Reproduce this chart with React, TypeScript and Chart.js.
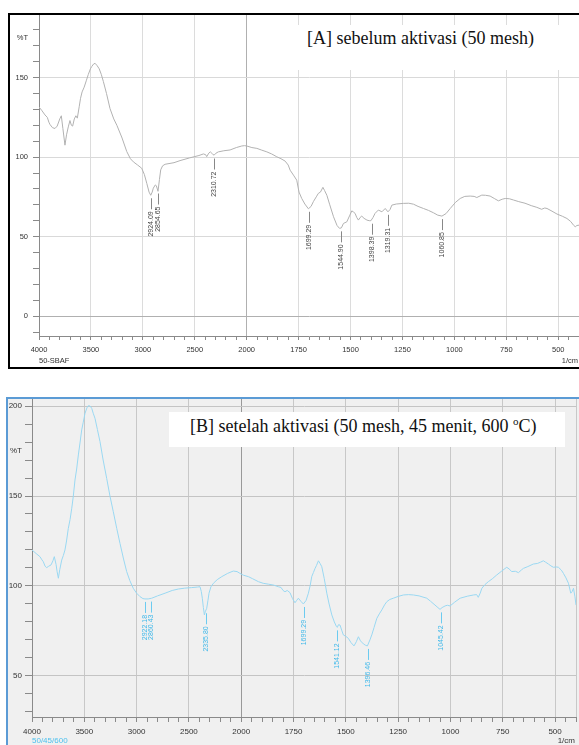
import React, { useEffect, useRef } from 'react';
import { Chart, registerables } from 'chart.js';
Chart.register(...registerables);

const SANS = '"Liberation Sans", Arial, Helvetica, sans-serif';
const SERIF = '"Liberation Serif", "Times New Roman", Times, serif';

// Shimadzu-style axis: 4000-2000 compressed (x2), 2000-400 expanded
const toAxis = (w: number) => (w >= 2000 ? (4000 - w) / 2 : 1000 + (2000 - w));
const fromAxis = (v: number) => (v <= 1000 ? 4000 - 2 * v : 2000 - (v - 1000));

const xTickLabels = [4000, 3500, 3000, 2500, 2000, 1750, 1500, 1250, 1000, 750, 500];
const yTickLabelsA = [0, 50, 100, 150];
const yTickLabelsB = [50, 100, 150, 200];

const titleA = '[A] sebelum aktivasi (50 mesh)';
const sampleA = '50-SBAF';
const sampleB = '50/45/600';
const unitLabel = '1/cm';
const yTitle = '%T';

const wavenumbersA = [
  4000, 3975, 3942, 3920, 3905, 3894, 3870, 3846, 3825, 3800,
  3785, 3770, 3750, 3735, 3718, 3702, 3688, 3676, 3660, 3645,
  3631, 3612, 3600, 3585, 3565, 3545, 3525, 3505, 3492, 3475,
  3460, 3440, 3420, 3400, 3380, 3350, 3316, 3280, 3250, 3200,
  3155, 3120, 3091, 3050, 3011, 2985, 2962, 2940, 2924, 2910,
  2899, 2880, 2870, 2854, 2840, 2828, 2810, 2786, 2700, 2642,
  2550, 2460, 2417, 2395, 2385, 2365, 2350, 2330, 2314, 2295,
  2273, 2220, 2160, 2100, 2047, 2020, 2000, 1975, 1951, 1930,
  1903, 1880, 1855, 1835, 1815, 1800, 1791, 1775, 1759, 1748,
  1735, 1720, 1703, 1690, 1679, 1665, 1655, 1645, 1633, 1625,
  1614, 1600, 1582, 1565, 1553, 1544, 1534, 1518, 1505, 1494,
  1486, 1478, 1470, 1462, 1454, 1446, 1435, 1421, 1410, 1402,
  1392, 1382, 1366, 1349, 1333, 1320, 1310, 1301, 1280, 1245,
  1220, 1197, 1175, 1149, 1125, 1101, 1080, 1060, 1040, 1020,
  995, 972, 950, 924, 905, 892, 868, 850, 828, 808,
  788, 770, 755, 735, 715, 690, 660, 630, 603, 580,
  565, 554, 530, 506, 480, 458, 440, 425, 418, 410,
  400,
];
const transmittanceA = [
  131.5, 129.5, 126.5, 125, 122, 120.5, 118.5, 118, 119.5, 124,
  126, 118, 107.5, 114, 119, 123, 120, 119.5, 124, 126,
  124.5, 132, 137, 141, 144, 148, 152, 155.5, 157, 158.5,
  159, 157.5, 155.5, 152, 147.5, 140, 130.5, 124, 120, 112,
  103.5, 99, 97, 95, 93, 89, 83.5, 78, 76, 78,
  80.5, 82.5, 82, 78.5, 86, 92, 94.5, 95.5, 96.5, 97.8,
  99.5, 101, 102, 101.5, 100.3, 102.5, 103.3, 102, 101.2, 102.5,
  103.3, 104, 104.5, 106, 107, 107.2, 107, 106, 105.5, 104.5,
  103.3, 102, 100.2, 99, 97.5, 95, 91.8, 88.7, 85.5, 78,
  74, 70.5, 67.5, 69, 72, 75, 77.2, 78, 81, 79,
  76, 70, 62.5, 57, 55.2, 55.5, 58.3, 59.3, 63, 66.2,
  65.5, 64.6, 62, 60.4, 62, 62.9, 61.5, 60.4, 60, 60,
  62, 64.6, 66.7, 65.6, 67.7, 65.6, 67, 69.8, 70.5, 70.9,
  71, 70.4, 69, 67.7, 66.5, 65, 63.5, 62.9, 64.5, 67.7,
  71.5, 74, 75.3, 75.5, 75.3, 74.6, 76.1, 76, 75.5, 74,
  72.5, 73.5, 74, 73.8, 73, 72, 71, 69.5, 68.4, 67.2,
  68, 67.7, 66, 64.2, 62.8, 61.4, 59.5, 57, 56.2, 57,
  57.2,
];

const wavenumbersB = [
  4000, 3960, 3924, 3905, 3892, 3875, 3860, 3840, 3818, 3800,
  3787, 3770, 3760, 3748, 3735, 3716, 3700, 3685, 3670, 3653,
  3636, 3620, 3605, 3589, 3573, 3557, 3540, 3525, 3510, 3493,
  3475, 3461, 3445, 3429, 3415, 3398, 3375, 3350, 3320, 3286,
  3255, 3223, 3190, 3159, 3125, 3095, 3065, 3032, 3000, 2968,
  2940, 2920, 2890, 2856, 2800, 2728, 2660, 2602, 2540, 2474,
  2420, 2394, 2382, 2372, 2362, 2352, 2342, 2330, 2318, 2308,
  2290, 2266, 2230, 2186, 2130, 2076, 2040, 2012, 1990, 1966,
  1945, 1918, 1895, 1870, 1845, 1823, 1810, 1800, 1791, 1780,
  1767, 1755, 1743, 1735, 1727, 1715, 1703, 1690, 1679, 1670,
  1663, 1655, 1647, 1640, 1631, 1623, 1615, 1603, 1591, 1580,
  1567, 1555, 1545, 1541, 1535, 1528, 1520, 1512, 1500, 1488,
  1475, 1461, 1450, 1440, 1430, 1416, 1405, 1397, 1385, 1376,
  1365, 1352, 1340, 1328, 1315, 1304, 1290, 1273, 1250, 1225,
  1200, 1177, 1150, 1113, 1095, 1074, 1060, 1050, 1040, 1026,
  1015, 1002, 980, 954, 920, 890, 875, 867, 858, 850,
  835, 819, 800, 779, 755, 731, 720, 707, 690, 675,
  660, 651, 630, 604, 585, 570, 556, 545, 532, 520,
  508, 495, 484, 470, 460, 448, 436, 425, 418, 412,
  405, 400,
];
const transmittanceB = [
  120, 118, 116.3, 114.5, 113.5, 111, 110.2, 111, 111.7, 114,
  116.3, 112, 108, 104.3, 109, 114.4, 117, 120, 125, 132,
  137, 143.2, 150, 158.9, 165, 172.8, 180, 186.7, 191, 196,
  199, 200.2, 200, 198.7, 196, 193.2, 187, 180.2, 170, 159.8,
  150, 141.3, 132, 123.7, 115, 108, 103, 98.7, 96, 94.1,
  93, 92.8, 92.8, 93.2, 94.5, 96, 97.5, 98.3, 98.8, 99.1,
  99.4, 99.6, 97, 93.2, 88, 83.9, 86, 87.6, 92, 96,
  99.5, 101.5, 103.5, 105.2, 107, 108.3, 108, 107, 106, 105.2,
  104, 102.4, 101.5, 101, 100.5, 99.6, 99.2, 97.5, 96.8, 97.5,
  96.3, 93, 90.7, 92, 93.2, 91.5, 90, 92, 96, 100.5,
  105.2, 107.5, 109.8, 111.5, 114, 112.5, 110.7, 104, 96, 90,
  83.9, 80, 77.5, 77, 78.5, 78.3, 75.5, 72.8, 72, 70.9,
  68.5, 66.7, 69, 71.8, 69.5, 67.8, 67, 66.7, 70, 72.8,
  77, 82, 84.5, 86.7, 89.5, 91.3, 92.5, 93.2, 94.2, 95,
  95.2, 95, 94.5, 93.2, 91.5, 89.4, 88, 87, 88, 88.9,
  89.3, 88.9, 91, 93.2, 94.3, 95, 95.2, 93.7, 96, 98.7,
  100.8, 102.4, 104, 106.1, 108.3, 110.4, 109.5, 108, 108.2, 107.4,
  109, 109.8, 110.8, 112.2, 112.5, 113.2, 114, 113.2, 112.2, 111.2,
  110.4, 110.6, 110.4, 108.8, 107, 104.5, 101.5, 96, 97, 98.7,
  94, 89.4,
];

const peaksA = [2924.09, 2854.65, 2310.72, 1699.29, 1544.9, 1398.39, 1319.31, 1060.85];
const peakDepthA = [76, 79, 101, 67.5, 55.2, 60, 65.6, 62.9];
const peaksB = [2922.18, 2860.43, 2335.8, 1699.29, 1541.12, 1396.46, 1045.42];
const peakDepthB = [92.8, 93, 86.5, 90, 77, 66.7, 87];

type Panel = {
  wn: number[]; t: number[]; peaks: number[]; peakT: number[];
  yLabels: number[]; yMin: number; yMax: number;
  lineColor: string; peakLineColor: string; peakTextColor: string;
  sample: string; sampleColor: string;
  left: number; top: number; width: number; height: number;
  yAxisWidth: number; xAxisHeight: number; padRight: number;
  yTickLen: number; yTickPad: number; xTickLen: number; xTickPad: number;
  tickFont: number; gridMinor: string; gridMajor: string; gridBreak: string;
  axisColor: string; bottomTextOffset: number;
};

function SpectrumChart({ p }: { p: Panel }) {
  const ref = useRef<HTMLCanvasElement | null>(null);
  useEffect(() => {
    if (!ref.current) return;
    const data = p.wn.map((w, i) => ({ x: toAxis(w), y: p.t[i] }));
    const annot = {
      id: 'annot',
      afterDatasetsDraw(chart: any) {
        const { ctx, chartArea, scales } = chart;
        const x = scales.x, y = scales.y;
        ctx.save();
        ctx.lineWidth = 1;
        ctx.font = `7px ${SANS}`;
        p.peaks.forEach((w, i) => {
          const px = Math.round(x.getPixelForValue(toAxis(w))) + 0.5;
          const py = y.getPixelForValue(p.peakT[i]);
          const y0 = py + 3, y1 = py + 14;
          ctx.strokeStyle = p.peakLineColor;
          ctx.beginPath(); ctx.moveTo(px, y0); ctx.lineTo(px, y1); ctx.stroke();
          ctx.save();
          ctx.translate(px, y1 + 2);
          ctx.rotate(-Math.PI / 2);
          ctx.fillStyle = p.peakTextColor;
          ctx.textAlign = 'right';
          ctx.textBaseline = 'middle';
          ctx.fillText(w.toFixed(2), 0, 0);
          ctx.restore();
        });
        ctx.font = `${p.tickFont}px ${SANS}`;
        ctx.fillStyle = '#333';
        ctx.textAlign = 'right';
        ctx.textBaseline = 'middle';
        ctx.fillText(yTitle, y.right - p.yTickLen - p.yTickPad, y.getPixelForValue(175));
        ctx.textAlign = 'right';
        ctx.fillText(unitLabel, chartArea.right - 1, chartArea.bottom + p.bottomTextOffset);
        ctx.textAlign = 'left';
        ctx.fillStyle = p.sampleColor;
        ctx.fillText(p.sample, chartArea.left, chartArea.bottom + p.bottomTextOffset);
        ctx.restore();
      },
    };
    const chart = new Chart(ref.current, {
      type: 'line',
      data: {
        datasets: [{
          data,
          borderColor: p.lineColor,
          borderWidth: 1,
          pointRadius: 0,
          tension: 0,
          fill: false,
        }],
      },
      options: {
        responsive: false,
        animation: false,
        devicePixelRatio: 1,
        layout: { padding: { left: 0, right: p.padRight, top: 0, bottom: 0 } },
        plugins: { legend: { display: false }, tooltip: { enabled: false } },
        scales: {
          x: {
            type: 'linear', min: 0, max: 2600,
            afterFit: (s: any) => {
              s.height = p.xAxisHeight;
              s.paddingLeft = 0; s.paddingRight = 0; s.paddingTop = 0; s.paddingBottom = 0;
            },
            ticks: {
              stepSize: 50, autoSkip: false, maxRotation: 0, minRotation: 0, includeBounds: false,
              padding: p.xTickPad, color: '#333', font: { family: SANS, size: p.tickFont },
              callback: (v: any) => {
                const w = fromAxis(Math.round(Number(v)));
                return xTickLabels.includes(w) ? String(w) : '';
              },
            },
            grid: {
              color: (c: any) => {
                if (!c.tick) return 'transparent';
                const v = Math.round(c.tick.value);
                if (v === 1000) return p.gridBreak;
                if (v === 2600 || xTickLabels.includes(fromAxis(v))) return p.gridMajor;
                return 'transparent';
              },
              tickColor: p.axisColor, tickLength: p.xTickLen, lineWidth: 1,
            },
            border: { color: p.axisColor },
          },
          y: {
            type: 'linear', min: p.yMin, max: p.yMax,
            afterFit: (s: any) => {
              s.width = p.yAxisWidth;
              s.paddingLeft = 0; s.paddingRight = 0; s.paddingTop = 0; s.paddingBottom = 0;
            },
            ticks: {
              stepSize: 10, autoSkip: false, includeBounds: false,
              padding: p.yTickPad, color: '#333', font: { family: SANS, size: p.tickFont },
              callback: (v: any) => (p.yLabels.includes(Math.round(Number(v))) ? String(Math.round(Number(v))) : ''),
            },
            grid: {
              color: (c: any) => {
                if (!c.tick) return 'transparent';
                const v = Math.round(c.tick.value);
                if (v === 0) return p.gridBreak;
                return p.yLabels.includes(v) ? p.gridMinor : 'transparent';
              },
              tickColor: p.axisColor, tickLength: p.yTickLen, lineWidth: 1,
            },
            border: { color: p.axisColor },
          },
        },
      },
      plugins: [annot],
    } as any);
    return () => chart.destroy();
  }, [p]);
  return (
    <canvas
      ref={ref}
      width={p.width}
      height={p.height}
      style={{ position: 'absolute', left: p.left, top: p.top, width: p.width, height: p.height }}
    />
  );
}

const panelA: Panel = {
  wn: wavenumbersA, t: transmittanceA, peaks: peaksA, peakT: peakDepthA,
  yLabels: yTickLabelsA, yMin: -12.5, yMax: 190,
  lineColor: '#b2b2b2', peakLineColor: '#888', peakTextColor: '#444',
  sample: sampleA, sampleColor: '#333',
  left: 8, top: 14, width: 571, height: 354,
  yAxisWidth: 31, xAxisHeight: 32, padRight: 0,
  yTickLen: 6, yTickPad: 5, xTickLen: 4, xTickPad: 5,
  tickFont: 7.5, gridMinor: '#d9d9d9', gridMajor: '#dcdcdc', gridBreak: '#b0b0b0',
  axisColor: '#8a8a8a', bottomTextOffset: 25,
};

const panelB: Panel = {
  wn: wavenumbersB, t: transmittanceB, peaks: peaksB, peakT: peakDepthB,
  yLabels: yTickLabelsB, yMin: 27.2, yMax: 203.9,
  lineColor: '#9ad8f2', peakLineColor: '#6ccbf0', peakTextColor: '#3fb8ea',
  sample: sampleB, sampleColor: '#4cc0ee',
  left: 8, top: 399, width: 571, height: 346,
  yAxisWidth: 24, xAxisHeight: 28, padRight: 3,
  yTickLen: 7, yTickPad: 3, xTickLen: 5, xTickPad: 5,
  tickFont: 8, gridMinor: '#c4c4c4', gridMajor: '#c8c8c8', gridBreak: '#999999',
  axisColor: '#8a8a8a', bottomTextOffset: 24,
};

export default function App() {
  return (
    <div style={{ position: 'absolute', left: 0, top: 0, width: 579, height: 745, overflow: 'hidden', background: '#fff' }}>
      <div style={{ position: 'absolute', left: 6, top: 397, width: 580, height: 360, boxSizing: 'border-box', border: '2px solid #5b9bd5', background: '#f0f0f0' }} />
      <SpectrumChart p={panelA} />
      <SpectrumChart p={panelB} />
      <div style={{ position: 'absolute', left: 8, top: 13, width: 580, height: 356, boxSizing: 'border-box', border: '2px solid #000', pointerEvents: 'none' }} />
      <div style={{ position: 'absolute', left: 292, top: 25, width: 287, height: 45, boxSizing: 'border-box', background: '#fff', paddingLeft: 15, paddingTop: 3, fontFamily: SERIF, fontSize: 18, lineHeight: '21px', color: '#111', whiteSpace: 'nowrap' }}>
        {titleA}
      </div>
      <div style={{ position: 'absolute', left: 169, top: 412, width: 396, height: 35, boxSizing: 'border-box', background: '#fff', paddingLeft: 21, paddingTop: 4, fontFamily: SERIF, fontSize: 18, lineHeight: '21px', color: '#111', whiteSpace: 'nowrap' }}>
        [B] setelah aktivasi (50 mesh, 45 menit, 600 <span style={{ fontSize: 11, position: 'relative', top: -7 }}>o</span>C)
      </div>
    </div>
  );
}
